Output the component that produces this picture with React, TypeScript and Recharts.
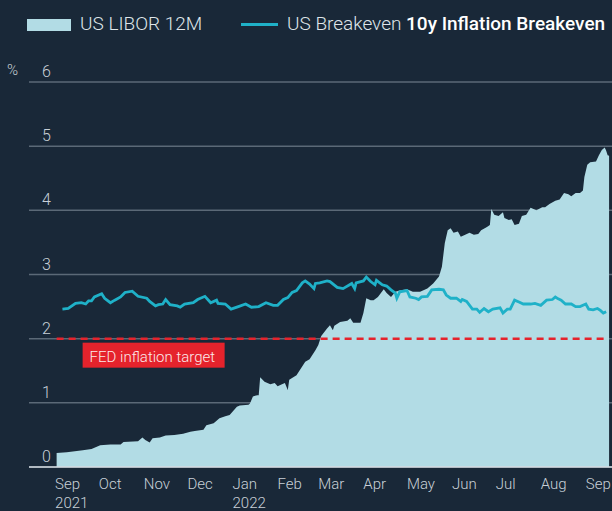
import { ComposedChart, Area, Line, XAxis, YAxis, CartesianGrid, ReferenceLine } from 'recharts'

// x values are days since 1 Sep 2021
const liborDays = [0,7,18,24,30,37,44,46,56,59,61,64,66,71,75,81,87,92,95,101,103,108,112,116,119,124,126,132,133,135,138,139,140,143,147,150,152,155,157,159,160,165,169,171,174,178,180,182,186,188,190,191,195,200,202,204,209,211,213,216,218,221,225,227,230,233,236,241,245,250,255,259,263,265,267,269,271,273,276,278,281,284,287,290,292,296,298,299,301,304,307,308,311,313,315,318,320,323,326,328,330,334,336,339,343,346,349,352,354,357,360,362,363,365,367,371,373,375,377,378,379,380]
const liborValues = [0.22,0.23,0.26,0.28,0.34,0.35,0.35,0.39,0.40,0.46,0.42,0.38,0.45,0.46,0.49,0.50,0.52,0.55,0.56,0.58,0.65,0.68,0.76,0.79,0.81,0.94,0.96,0.97,0.99,1.10,1.12,1.12,1.40,1.33,1.29,1.31,1.26,1.29,1.31,1.20,1.36,1.43,1.57,1.64,1.68,1.82,1.90,2.04,2.16,2.21,2.13,2.20,2.26,2.28,2.32,2.25,2.25,2.40,2.63,2.60,2.60,2.65,2.77,2.71,2.65,2.73,2.75,2.77,2.73,2.73,2.78,2.86,2.97,3.12,3.49,3.69,3.72,3.65,3.67,3.59,3.62,3.65,3.62,3.63,3.69,3.74,3.77,4.02,3.93,3.91,3.97,3.88,3.85,3.86,3.77,3.79,3.91,3.93,4.04,4.02,4.00,4.05,4.05,4.10,4.15,4.17,4.27,4.25,4.22,4.27,4.27,4.31,4.52,4.71,4.75,4.76,4.86,4.94,4.98,4.93,4.86,4.85]
const breakevenDays = [4,8,13,17,20,22,24,26,31,33,37,40,44,47,52,56,62,64,68,70,73,75,78,83,85,88,94,97,102,106,110,111,116,120,125,130,134,139,144,149,152,156,159,162,165,169,171,174,177,178,181,186,188,193,197,203,205,206,211,213,216,219,220,224,227,230,233,234,236,241,243,247,249,251,255,258,263,266,268,271,275,278,279,282,286,289,291,294,297,300,305,307,310,312,315,318,321,326,329,333,337,341,343,345,347,350,354,357,360,364,366,369,372,374,376,378]
const breakevenValues = [2.46,2.47,2.55,2.56,2.54,2.59,2.59,2.65,2.70,2.63,2.56,2.60,2.65,2.72,2.74,2.66,2.63,2.58,2.51,2.53,2.54,2.61,2.53,2.51,2.49,2.54,2.56,2.61,2.66,2.56,2.60,2.55,2.54,2.46,2.50,2.54,2.49,2.50,2.56,2.52,2.52,2.61,2.64,2.72,2.75,2.87,2.90,2.85,2.78,2.86,2.87,2.90,2.89,2.80,2.78,2.86,2.78,2.87,2.90,2.96,2.89,2.84,2.91,2.84,2.82,2.76,2.71,2.63,2.73,2.75,2.65,2.63,2.61,2.65,2.66,2.76,2.77,2.76,2.68,2.63,2.63,2.58,2.61,2.58,2.46,2.46,2.41,2.47,2.42,2.46,2.48,2.40,2.46,2.46,2.60,2.57,2.54,2.54,2.55,2.52,2.60,2.61,2.65,2.62,2.60,2.54,2.54,2.50,2.50,2.54,2.46,2.45,2.47,2.44,2.40,2.42]

const monthTicks = [0,30,61,91,122,153,181,212,242,273,303,334,365]
const monthLabels = ['Sep','Oct','Nov','Dec','Jan','Feb','Mar','Apr','May','Jun','Jul','Aug','Sep']
const yearLabels = ['2021','','','','2022','','','','','','','','']
const yTicks = [0,1,2,3,4,5,6]
const fedTarget = 2
const fedEnd = 378

const BG = '#192838'
const AREA = '#b2dce5'
const LINE = '#1fb1c8'
const GRID = '#5b6977'
const TEXT = '#c8d0d7'
const RED = '#e5232c'

// merge both series into one table keyed by day
const rows: Record<number, any> = {}
liborDays.forEach((d, i) => { rows[d] = { ...(rows[d] || { day: d }), libor: liborValues[i] } })
breakevenDays.forEach((d, i) => { rows[d] = { ...(rows[d] || { day: d }), breakeven: breakevenValues[i] } })
const data = Object.values(rows).sort((a: any, b: any) => a.day - b.day)

const XTick = ({ x, payload }: any) => {
  const i = monthTicks.indexOf(payload.value)
  return (
    <g>
      <text x={x - 1.5} y={489} fill={TEXT} fontSize={15} fontWeight={300} textAnchor="start">{monthLabels[i]}</text>
      {yearLabels[i] && <text x={x - 1.5} y={508} fill={TEXT} fontSize={15} fontWeight={300} textAnchor="start">{yearLabels[i]}</text>}
    </g>
  )
}

const YTick = ({ y, payload }: any) => (
  <text x={42} y={y - 5} fill={TEXT} fontSize={16} fontWeight={300} textAnchor="start">{payload.value}</text>
)

const FedLabel = ({ viewBox }: any) => {
  if (!viewBox) return null
  const x = viewBox.x + 26, y = viewBox.y + 4
  return (
    <g>
      <rect x={x} y={y} width={142} height={25} fill={RED}/>
      <text x={x + 7} y={y + 19} fill="#fbe9ea" fontSize={15} fontWeight={300}>FED inflation target</text>
    </g>
  )
}

export default function App() {
  return (
    <div style={{ position:'absolute', left:0, top:0, width:612, height:511, background:BG, overflow:'hidden', fontFamily:'Roboto, sans-serif' }}>
      <div style={{ position:'absolute', left:27, top:19, width:44, height:12, background:AREA }}/>
      <div style={{ position:'absolute', left:80, top:13, fontSize:19, fontWeight:300, color:'#dfe5e9', whiteSpace:'nowrap', lineHeight:'22px' }}>US LIBOR 12M</div>
      <div style={{ position:'absolute', left:241, top:22.5, width:37, height:3.5, background:LINE }}/>
      <div style={{ position:'absolute', left:287, top:13, fontSize:19, fontWeight:300, color:'#dfe5e9', whiteSpace:'nowrap', lineHeight:'22px' }}>
        US Breakeven <span style={{ fontWeight:500, color:'#ffffff' }}>10y Inflation Breakeven</span>
      </div>
      <div style={{ position:'absolute', left:7, top:61, fontSize:15, fontWeight:300, color:TEXT }}>%</div>
      <ComposedChart width={612} height={511} data={data} margin={{ top:82, right:0, bottom:0, left:0 }} style={{ position:'absolute', left:0, top:0 }}>
        <CartesianGrid horizontal vertical={false} stroke={GRID} strokeWidth={1.5}/>
        <XAxis dataKey="day" type="number" domain={[-19, 382]} ticks={monthTicks} tick={<XTick/>} axisLine={false} tickLine={false} height={44} interval={0}/>
        <YAxis type="number" domain={[0, 6]} ticks={yTicks} tick={<YTick/>} axisLine={false} tickLine={false} width={29}/>
        <ReferenceLine y={0} stroke="#d4dbe1" strokeWidth={1.5}/>
        <Area dataKey="libor" type="linear" fill={AREA} fillOpacity={1} stroke="none" connectNulls isAnimationActive={false}/>
        <Line dataKey="breakeven" type="linear" stroke={LINE} strokeWidth={2.8} dot={false} connectNulls isAnimationActive={false}/>
        <ReferenceLine segment={[{ x:0, y:fedTarget }, { x:fedEnd, y:fedTarget }]} stroke={RED} strokeWidth={2.5} strokeDasharray="7 5" label={<FedLabel/>}/>
      </ComposedChart>
    </div>
  )
}
